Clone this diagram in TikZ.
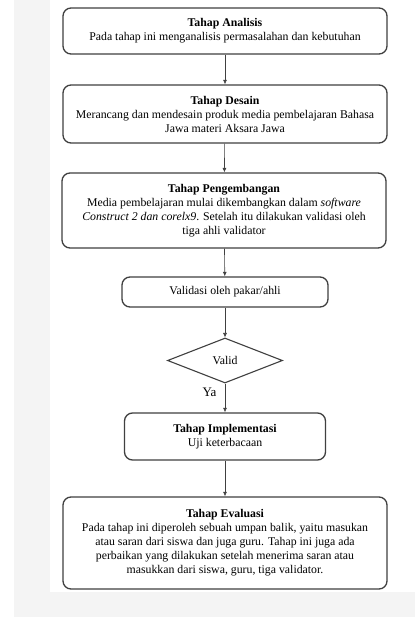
\documentclass[tikz,border=0pt]{standalone}
\usepackage{fontspec}
\setmainfont{Liberation Serif}
\usetikzlibrary{shapes.geometric,arrows.meta}

\definecolor{pagegray}{HTML}{F4F4F4}
\definecolor{linegray}{HTML}{404040}

\tikzset{
  stagebox/.style={draw=linegray, line width=1.3pt, rounded corners=8pt, align=center,
    font=\fontsize{11.8}{14}\selectfont, inner sep=2pt},
  decision/.style={diamond, draw=linegray, line width=1.1pt, aspect=2.5, inner sep=0pt,
    minimum width=115pt, minimum height=45pt, font=\fontsize{11.8}{14}\selectfont},
  flow/.style={-{Latex[length=4.5pt,width=4pt]}, line width=0.6pt, draw=linegray}
}

\begin{document}
\begin{tikzpicture}[x=1pt, y=-1pt]
    % Page background
    \useasboundingbox (0,0) rectangle (415,617);
    \fill[pagegray] (14,0) rectangle (415,617);
    \fill[white] (50,0) rectangle (415,592);

    % Stages
    \node[stagebox, minimum width=324pt, minimum height=46pt] (analisis) at (225,31)
        {\textbf{Tahap Analisis}\\ Pada tahap ini menganalisis permasalahan dan kebutuhan};
    \node[stagebox, minimum width=324pt, minimum height=58pt] (desain) at (225,114)
        {\textbf{Tahap Desain}\\ Merancang dan mendesain produk media pembelajaran Bahasa\\ Jawa materi Aksara Jawa};
    \node[stagebox, minimum width=324pt, minimum height=75pt] (pengembangan) at (224,210.5)
        {\textbf{Tahap Pengembangan}\\ Media pembelajaran mulai dikembangkan dalam \textit{software}\\
         \textit{Construct 2 dan corelx9}. Setelah itu dilakukan validasi oleh\\ tiga ahli validator};
    \node[stagebox, minimum width=206pt, minimum height=30pt] (validasi) at (225,292)
        {Validasi oleh pakar/ahli};

    % Decision
    \node[decision] (valid) at (225,360.5) {Valid};

    \node[stagebox, minimum width=201pt, minimum height=47pt] (implementasi) at (225,436.5)
        {\textbf{Tahap Implementasi}\\ Uji keterbacaan};
    \node[stagebox, minimum width=324pt, minimum height=92pt] (evaluasi) at (225,543)
        {\textbf{Tahap Evaluasi}\\ Pada tahap ini diperoleh sebuah umpan balik, yaitu masukan\\
         atau saran dari siswa dan juga guru. Tahap ini juga ada\\
         perbaikan yang dilakukan setelah menerima saran atau\\
         masukkan dari siswa, guru, tiga validator.};

    % Arrows
    \draw[flow] (analisis) -- (desain);
    \draw[flow] (desain) -- (pengembangan);
    \draw[flow] (pengembangan) -- (validasi);
    \draw[flow] (validasi) -- (valid);
    \draw[flow] (valid) -- node[pos=0.3, left=5pt, font=\fontsize{13}{15}\selectfont] {Ya} (implementasi);
    \draw[flow] (implementasi) -- (evaluasi);
\end{tikzpicture}
\end{document}
